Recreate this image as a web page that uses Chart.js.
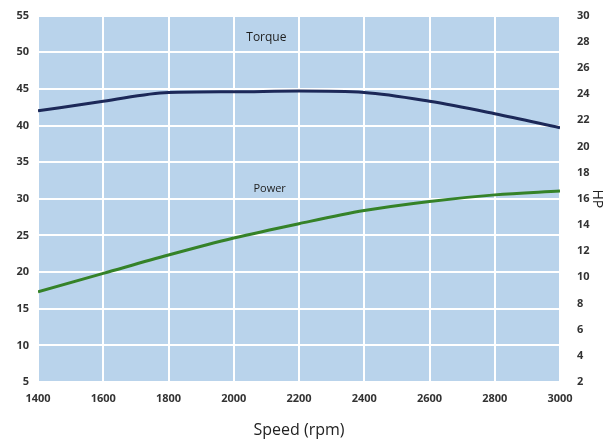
<!DOCTYPE html>
<html>
<head>
<meta charset="utf-8">
<script src="https://cdn.jsdelivr.net/npm/chart.js@4/dist/chart.umd.min.js"></script>
<style>
  html, body { margin: 0; padding: 0; background: #fff; }
  #wrap { width: 615px; height: 444px; }
</style>
</head>
<body>
<div id="wrap"><canvas id="myChart" width="615" height="444"></canvas></div>
<script>
// Datos
const speeds = [1400, 1600, 1800, 2000, 2200, 2400, 2600, 2800, 3000];
const torque = [42.0, 43.3, 44.5, 44.6, 44.7, 44.5, 43.3, 41.6, 39.7];
const powerHP = [8.9, 10.3, 11.7, 13.0, 14.1, 15.1, 15.8, 16.3, 16.6];

const FONT = '"Open Sans", "DejaVu Sans", sans-serif';

// fondo azul del area del grafico
const plotBackground = {
  id: 'plotBackground',
  beforeDraw(chart) {
    const { ctx, chartArea: a } = chart;
    ctx.save();
    ctx.fillStyle = '#b9d3eb';
    ctx.fillRect(a.left, a.top, a.right - a.left, a.bottom - a.top);
    ctx.restore();
  }
};

// etiquetas "Torque" y "Power" dentro del grafico
const curveLabels = {
  id: 'curveLabels',
  afterDatasetsDraw(chart) {
    const { ctx } = chart;
    const x = chart.scales.x, y = chart.scales.y;
    ctx.save();
    ctx.font = '12px ' + FONT;
    ctx.fillStyle = '#1e1e1e';
    ctx.textAlign = 'center';
    ctx.textBaseline = 'middle';
    ctx.fillText('Torque', x.getPixelForValue(2100), y.getPixelForValue(52.0));
    ctx.font = '11px ' + FONT;
    ctx.fillText('Power', x.getPixelForValue(2110), y.getPixelForValue(31.4));
    ctx.restore();
  }
};

const tickFont = { family: FONT, size: 11, weight: 'bold' };

const ctx = document.getElementById('myChart').getContext('2d');
const chart = new Chart(ctx, {
  type: 'line',
  data: {
    datasets: [
      {
        label: 'Torque',
        data: speeds.map((s, i) => ({ x: s, y: torque[i] })),
        borderColor: '#1c2858',
        borderWidth: 3,
        pointRadius: 0,
        cubicInterpolationMode: 'monotone',
        yAxisID: 'y'
      },
      {
        label: 'Power',
        data: speeds.map((s, i) => ({ x: s, y: powerHP[i] })),
        borderColor: '#358228',
        borderWidth: 3,
        pointRadius: 0,
        cubicInterpolationMode: 'monotone',
        yAxisID: 'y1'
      }
    ]
  },
  options: {
    responsive: false,
    animation: false,
    layout: { padding: { top: 4, left: 0, right: 8, bottom: 0 } },
    plugins: {
      legend: { display: false },
      tooltip: { enabled: false }
    },
    scales: {
      x: {
        type: 'linear',
        min: 1400,
        max: 3000,
        ticks: { stepSize: 200, color: '#333', font: tickFont, padding: 10, callback: v => String(v) },
        grid: { color: '#ffffff', lineWidth: 2, drawTicks: false },
        border: { display: false },
        title: { display: true, text: 'Speed (rpm)', color: '#222', font: { family: FONT, size: 16 }, padding: { top: 10 } },
        afterFit(scale) { scale.height = 62; }
      },
      y: {
        position: 'left',
        min: 5,
        max: 55,
        ticks: { stepSize: 5, color: '#333', font: tickFont, padding: 9 },
        grid: { color: '#ffffff', lineWidth: 2, drawTicks: false },
        border: { display: false },
        afterFit(scale) { scale.width = 38; }
      },
      y1: {
        position: 'right',
        min: 2,
        max: 30,
        ticks: { stepSize: 2, color: '#333', font: tickFont, padding: 9 },
        grid: { display: false },
        border: { display: false },
        title: { display: true, text: 'HP', color: '#222', font: { family: FONT, size: 14 }, padding: 2 },
        afterFit(scale) { scale.width = 47; }
      }
    }
  },
  plugins: [plotBackground, curveLabels]
});
</script>
</body>
</html>
